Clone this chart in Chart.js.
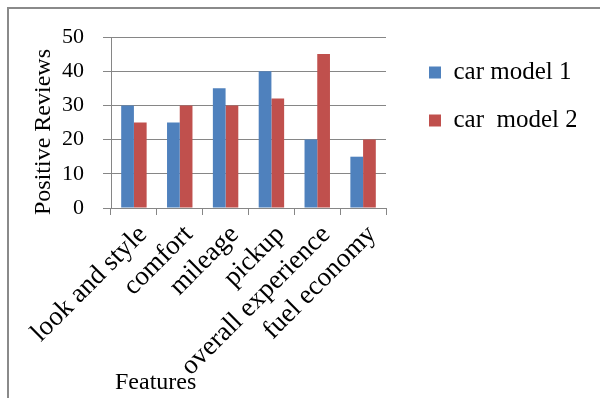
<!DOCTYPE html>
<html>
<head>
<meta charset="utf-8">
<title>Positive reviews by feature</title>
<script src="https://cdn.jsdelivr.net/npm/chart.js@4.4.1/dist/chart.umd.min.js"></script>
<style>
  body { margin: 0; background: #fff; }
  #wrap { position: relative; width: 600px; height: 398px; overflow: hidden; }
  #frame {
    position: absolute; left: 7px; top: 7px; width: 620px; height: 420px;
    border-left: 2px solid #8a8a8a; border-top: 2px solid #8a8a8a;
    pointer-events: none;
  }
</style>
</head>
<body>
<div id="wrap">
  <canvas id="reviewChart" width="600" height="398"></canvas>
  <div id="frame"></div>
</div>
<script>
// Chart data
const features = ['look and style', 'comfort', 'mileage', 'pickup', 'overall experience', 'fuel economy'];
const carModel1 = [30, 25, 35, 40, 20, 15];
const carModel2 = [25, 30, 30, 32, 45, 20];
const seriesNames = ['car model 1', 'car  model 2'];
const yTicks = [0, 10, 20, 30, 40, 50];

const SERIF = '"Liberation Serif", "Times New Roman", serif';
const AXIS_GREY = '#868686';

Chart.defaults.font.family = SERIF;
Chart.defaults.color = '#000';

// Axis titles: "Features" sits under the first labels and the
// y title is a little lower than the axis centre
const axisTitles = {
    id: 'axisTitles',
    afterDraw(chart) {
        const { ctx, chartArea } = chart;
        ctx.save();
        ctx.fillStyle = '#000';
        ctx.font = '24px ' + SERIF;
        ctx.textAlign = 'left';
        ctx.textBaseline = 'alphabetic';
        ctx.fillText('Features', chartArea.left + 4, chartArea.bottom + 181);

        ctx.translate(44, 132);
        ctx.rotate(-Math.PI / 2);
        ctx.textAlign = 'center';
        ctx.textBaseline = 'middle';
        ctx.fillText('Positive Reviews', 0, 0);
        ctx.restore();
    }
};

const ctx = document.getElementById('reviewChart').getContext('2d');

new Chart(ctx, {
    type: 'bar',
    data: {
        labels: features,
        datasets: [
            { label: seriesNames[0], data: carModel1, backgroundColor: '#4F81BD' },
            { label: seriesNames[1], data: carModel2, backgroundColor: '#C0504D' }
        ]
    },
    options: {
        responsive: false,
        animation: false,
        layout: { padding: { top: 37, right: 24, bottom: 0, left: 0 } },
        datasets: {
            bar: { categoryPercentage: 0.555, barPercentage: 1.0 }
        },
        scales: {
            x: {
                grid: { drawOnChartArea: false, drawTicks: true, tickLength: 7, color: AXIS_GREY, offset: true },
                border: { display: true, color: AXIS_GREY },
                ticks: {
                    color: '#000',
                    font: { family: SERIF, size: 27 },
                    minRotation: 45,
                    maxRotation: 45,
                    autoSkip: false,
                    padding: 4,
                    labelOffset: 9
                },
                afterFit(scale) { scale.height = 190; }
            },
            y: {
                min: 0,
                max: 50,
                afterBuildTicks(scale) { scale.ticks = yTicks.map(v => ({ value: v })); },
                grid: { color: AXIS_GREY, drawTicks: true, tickLength: 8 },
                border: { display: true, color: AXIS_GREY },
                ticks: {
                    color: '#000',
                    font: { family: SERIF, size: 22 },
                    padding: 19
                },
                afterFit(scale) { scale.width = 111; }
            },
            // spacer between the plot and the legend
            gap: {
                type: 'linear',
                position: 'right',
                grid: { display: false },
                border: { display: false },
                ticks: { display: false },
                afterFit(scale) { scale.width = 20; }
            }
        },
        plugins: {
            legend: {
                position: 'right',
                align: 'start',
                maxWidth: 170,
                labels: {
                    boxWidth: 12,
                    boxHeight: 12,
                    padding: 23,
                    color: '#000',
                    font: { family: SERIF, size: 25 }
                }
            },
            tooltip: { enabled: false }
        }
    },
    plugins: [axisTitles]
});
</script>
</body>
</html>
